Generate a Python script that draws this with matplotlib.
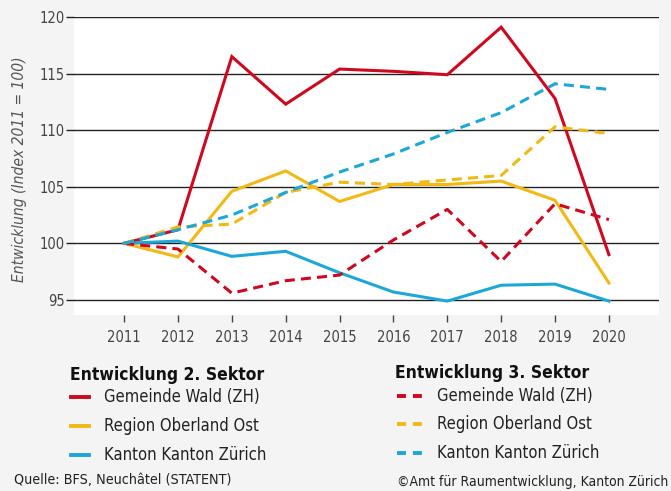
import matplotlib.pyplot as plt
from matplotlib.lines import Line2D

# ── Data ──────────────────────────────────────────────────────────────────────
years = [2011, 2012, 2013, 2014, 2015, 2016, 2017, 2018, 2019, 2020]

# 2. Sektor (solid lines)
wald_2 = [100, 101.2, 116.5, 112.3, 115.4, 115.2, 114.9, 119.1, 112.8, 99.0]
oberland_2 = [100, 98.8, 104.6, 106.4, 103.7, 105.2, 105.2, 105.5, 103.8, 96.5]
kanton_2 = [100, 100.2, 98.85, 99.3, 97.4, 95.7, 94.9, 96.3, 96.4, 94.9]

# 3. Sektor (dashed lines)
wald_3 = [100, 99.5, 95.6, 96.7, 97.2, 100.3, 103.0, 98.4, 103.5, 102.1]
oberland_3 = [100, 101.45, 101.7, 104.5, 105.4, 105.2, 105.6, 106.0, 110.3, 109.7]
kanton_3 = [100, 101.2, 102.5, 104.5, 106.3, 107.9, 109.8, 111.55, 114.1, 113.6]

labels = ['Gemeinde Wald (ZH)', 'Region Oberland Ost', 'Kanton Kanton Zürich']
yticks = [95, 100, 105, 110, 115, 120]

RED = '#d0081f'
YELLOW = '#f2b814'
BLUE = '#1ba8d9'
colors = [RED, YELLOW, BLUE]
BG = '#f4f4f4'

plt.rcParams['font.family'] = ['DejaVu Sans']
plt.rcParams['font.stretch'] = 'condensed'

# ── Figure ────────────────────────────────────────────────────────────────────
fig = plt.figure(figsize=(6.71, 4.91), dpi=100, facecolor=BG)
ax = fig.add_axes([74 / 671, 176 / 491, 585 / 671, 298 / 491])
ax.set_facecolor('white')

lw = 2.2
dash = (3.3, 2.0)
for series, c in zip([wald_2, oberland_2, kanton_2], colors):
    ax.plot(years, series, color=c, linewidth=lw, solid_joinstyle='miter')
for series, c in zip([wald_3, oberland_3, kanton_3], colors):
    ax.plot(years, series, color=c, linewidth=lw, linestyle=(0, dash))

ax.set_xlim(2010.07, 2020.93)
ax.set_ylim(93.67, 120)
ax.set_xticks(years)
ax.set_yticks(yticks)
ax.yaxis.grid(True, color='#222222', linewidth=1.0)
ax.set_axisbelow(True)
for s in ax.spines.values():
    s.set_visible(False)
ax.tick_params(axis='y', length=5.5, width=1.0, color='#222222',
               labelsize=10.5, labelcolor='#444444', pad=1)
ax.tick_params(axis='x', length=5, width=1.0, color='#444444',
               labelsize=10.5, labelcolor='#444444', pad=6)
ax.set_ylabel('Entwicklung (Index 2011 = 100)', fontsize=11.2, color='#555555',
              style='italic')
ax.yaxis.set_label_coords(-0.08, 0.49)

# ── Legend ────────────────────────────────────────────────────────────────────
H = 491.0
W = 671.0


def fx(x):
    return x / W


def fy(y):
    return 1 - y / H


fig.text(fx(70), fy(375), 'Entwicklung 2. Sektor', fontsize=12.5, fontweight='bold',
         color='#111111', va='center')
fig.text(fx(395), fy(373), 'Entwicklung 3. Sektor', fontsize=12.5, fontweight='bold',
         color='#111111', va='center')

rows = [397, 426, 455]
for lab, c, y in zip(labels, colors, rows):
    fig.add_artist(Line2D([fx(71), fx(89)], [fy(y), fy(y)], color=c, linewidth=2.8,
                          transform=fig.transFigure))
    fig.text(fx(104), fy(y), lab, fontsize=11.9, color='#222222', va='center')

rows3 = [396, 424, 453]
for lab, c, y in zip(labels, colors, rows3):
    fig.add_artist(Line2D([fx(397), fx(422)], [fy(y), fy(y)], color=c, linewidth=2.8,
                          linestyle=(0, (2.3, 1.8)), transform=fig.transFigure))
    fig.text(fx(437), fy(y), lab, fontsize=11.9, color='#222222', va='center')

fig.text(fx(14), fy(480), 'Quelle: BFS, Neuchâtel (STATENT)', fontsize=10.3,
         color='#222222', va='center')
fig.text(fx(668), fy(482), '©Amt für Raumentwicklung, Kanton Zürich', fontsize=10,
         color='#222222', va='center', ha='right')

fig.savefig('out.png', dpi=100, facecolor=BG)
